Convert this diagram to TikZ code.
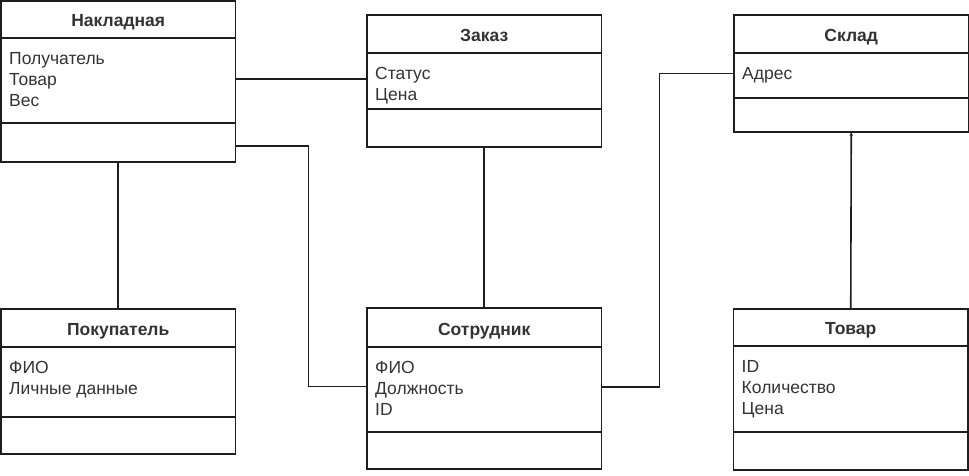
\documentclass[tikz,border=0pt]{standalone}
\usepackage{fontspec}
\setmainfont{Liberation Sans}
\usetikzlibrary{arrows.meta}
\definecolor{ink}{HTML}{1E1E1E}
\definecolor{txt}{HTML}{333333}
\tikzset{
  box/.style={draw=ink, line width=1.6pt, minimum width=234.5pt, inner sep=0pt, outer sep=0pt, anchor=north west},
  hdr/.style={font=\bfseries\fontsize{17.5}{21}\selectfont, text=txt, anchor=base, inner sep=0pt},
  attr/.style={font=\fontsize{17.5}{21}\selectfont, text=txt, anchor=base west, inner sep=0pt},
  link/.style={draw=ink, line width=1.6pt},
}
% #1 name, #2 left, #3 top, #4 header bottom, #5 attr bottom, #6 bottom, #7 title, #8 attributes
\newcommand\umlclass[8]{%
  \node[box, minimum height={#4-#3}] (#1-h) at (#2,#3) {};
  \node[box, minimum height={#5-#4}] (#1-a) at (#2,#4) {};
  \node[box, minimum height={#6-#5}] (#1-m) at (#2,#5) {};
  \node[hdr] (#1-t) at (#2+117.25,#4-12) {#7};
  \node[attr] (#1-x) at (#2+8,#4+26) {\begin{tabular}[t]{@{}l@{}}#8\end{tabular}};
}
\begin{document}
\begin{tikzpicture}[x=1pt,y=-1pt]
  \useasboundingbox (0,0) rectangle (969,475);
  \fill[white] (0,0) rectangle (969,475);
  \umlclass{nak}{1}{1}{38}{123}{162}{Накладная}{Получатель\\Товар\\Вес}
  \umlclass{zak}{367}{15}{53}{109}{147}{Заказ}{Статус\\Цена}
  \umlclass{skl}{734}{15}{53}{98}{132}{Склад}{Адрес}
  \umlclass{pok}{1}{309}{347}{417}{454}{Покупатель}{ФИО\\Личные данные}
  \umlclass{sot}{367}{308}{347}{432}{469}{Сотрудник}{ФИО\\Должность\\ID}
  \umlclass{tov}{733.5}{309}{346}{432}{470}{Товар}{ID\\Количество\\Цена}

  \draw[link] ([yshift=1.5pt]nak-a.east) -- ([yshift=1.5pt]nak-a.east -| zak-a.west);
  \draw[link] ([yshift=-3.5pt]nak-m.east) -- ++(73,0) |- ([yshift=3pt]sot-a.west);
  \draw[link] (nak-m.south) -- (pok-h.north);
  \draw[link] (zak-m.south) -- (sot-h.north);
  \draw[link] ([yshift=2.5pt]sot-a.east) -- ++(58,0) |- ([yshift=2pt]skl-a.west);
  \draw[link, -{Stealth[length=4pt,width=3.5pt]}] (tov-h.north) -- (skl-m.south);
\end{tikzpicture}
\end{document}
